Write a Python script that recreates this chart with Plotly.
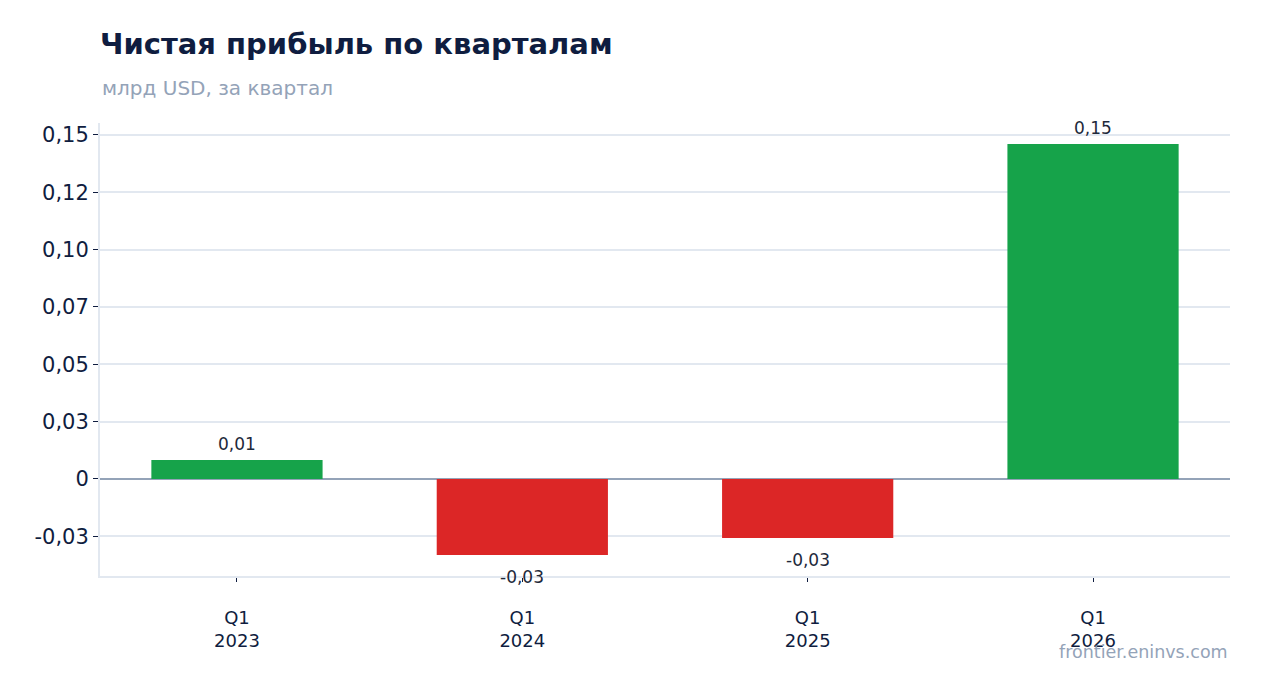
import plotly.graph_objects as go

# Data
quarters = ["Q1<br>2023", "Q1<br>2024", "Q1<br>2025", "Q1<br>2026"]
net_profit = [0.0083, -0.0331, -0.0257, 0.146]
tick_vals = [-0.025, 0, 0.025, 0.05, 0.075, 0.1, 0.125, 0.15]
tick_text = ["-0,03", "0", "0,03", "0,05", "0,07", "0,10", "0,12", "0,15"]

GREEN = "#16a34a"
RED = "#dc2626"
NAVY = "#0f1d40"
GRAY = "#94a3b8"
GRID = "#e2e8f0"


def fmt(v):
    """Two decimals with a comma separator."""
    return f"{v:.2f}".replace(".", ",")


colors = [GREEN if v >= 0 else RED for v in net_profit]

fig = go.Figure(go.Bar(
    x=quarters,
    y=net_profit,
    marker=dict(color=colors, line=dict(width=0)),
    width=0.6,
    cliponaxis=False,
    hoverinfo="skip",
))

# value labels above / below the bars
value_labels = [
    dict(x=q, y=v, xref="x", yref="y", text=fmt(v), showarrow=False,
         yanchor="middle", yshift=16 if v >= 0 else -22,
         font=dict(size=17, color="#1e293b"))
    for q, v in zip(quarters, net_profit)
]

fig.update_layout(
    width=1262, height=693,
    margin=dict(l=92, r=40, t=115, b=125),
    paper_bgcolor="white",
    plot_bgcolor="white",
    font=dict(family="DejaVu Sans", color=NAVY),
    showlegend=False,
    title=dict(
        text="<b>Чистая прибыль по кварталам</b>",
        font=dict(size=29, color=NAVY),
        x=92 / 1262, xref="container", xanchor="left",
        y=1 - 36 / 693, yref="container", yanchor="middle",
    ),
    annotations=value_labels + [
        dict(text="млрд USD, за квартал", x=0, xref="paper", xanchor="left",
             y=(568 - 80) / 453, yref="paper", yanchor="middle",
             showarrow=False, font=dict(size=20, color=GRAY)),
        dict(text="frontier.eninvs.com", x=1, xref="paper", xanchor="right",
             y=(568 - 644) / 453, yref="paper", yanchor="middle",
             showarrow=False, font=dict(size=17.5, color=GRAY)),
    ],
)

fig.update_xaxes(
    range=[-0.48, 3.48],
    showgrid=False,
    showline=True, linecolor=GRID, linewidth=2,
    ticks="outside", ticklen=4, tickcolor=NAVY,
    ticklabelstandoff=20,
    tickfont=dict(size=18, color=NAVY),
)

fig.update_yaxes(
    range=[-0.0423, 0.1552],
    tickvals=tick_vals, ticktext=tick_text,
    showgrid=True, gridcolor=GRID, gridwidth=1.5,
    zeroline=True, zerolinecolor=GRAY, zerolinewidth=2,
    showline=True, linecolor=GRID, linewidth=2,
    ticks="outside", ticklen=5, tickcolor=NAVY,
    tickfont=dict(size=21, color=NAVY),
)

fig.write_html("out.html")
